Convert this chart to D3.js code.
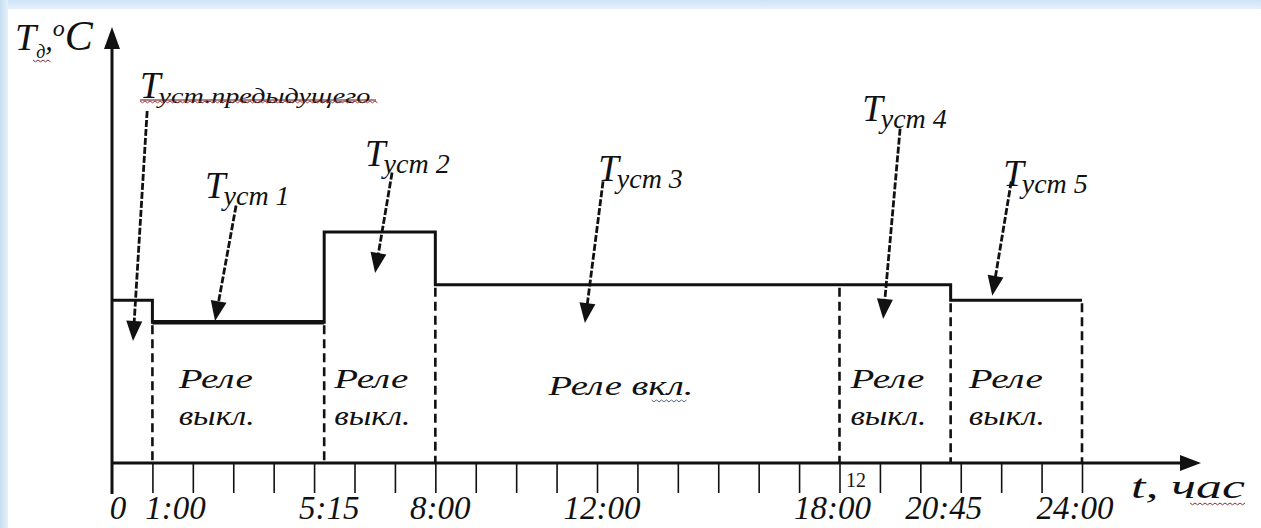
<!DOCTYPE html>
<html>
<head>
<meta charset="utf-8">
<script src="https://cdn.jsdelivr.net/npm/d3@7"></script>
<style>
  html, body { margin: 0; padding: 0; background: #fff; }
  svg { display: block; }
  text { font-family: "Liberation Serif", "DejaVu Serif", serif; font-style: italic; fill: #111; }
</style>
</head>
<body>
<svg id="chart" width="1261" height="528"></svg>
<script>
// Границы интервалов (часы) и уровень уставки на каждом интервале
const stepHours  = [0, 1, 5.25, 8, 20.75, 24];
const stepLevels = [7.4, 6.4, 10.5, 8.1, 7.4];

// Штриховые линии переключения реле
const relayHours = [1, 5.25, 8, 18, 20.75, 24];
const relayTop   = [6.4, 6.4, 8.1, 8.1, 7.4, 7.4];

// Подписи состояния реле: [час, строка 1, строка 2]
const relayText = [
  [1.65, 'Реле', 'выкл.'],
  [5.5, 'Реле', 'выкл.'],
  [10.8, 'Реле вкл.', ''],
  [18.27, 'Реле', 'выкл.'],
  [21.2, 'Реле', 'выкл.']
];

// Подписи оси времени
const tickHours  = [0, 1, 5.25, 8, 12, 18, 20.75, 24];
const tickLabels = ['0', '1:00', '5:15', '8:00', '12:00', '18:00', '20:45', '24:00'];

// Уставки: подпись, точка подписи, начало и конец стрелки (час, уровень)
const setNames  = ['уст.предыдущего', 'уст 1', 'уст 2', 'уст 3', 'уст 4', 'уст 5'];
const setLabel  = [[0.69, 16.6], [2.3, 12.05], [6.26, 13.5], [12.03, 12.8], [18.56, 15.55], [22.05, 12.6]];
const arrowFrom = [[0.87, 16.0], [3.07, 11.7], [6.93, 13.2], [12.15, 12.8], [19.5, 15.2], [22.25, 12.8]];
const arrowTo   = [[0.52, 5.55], [2.55, 6.45], [6.51, 8.64], [11.7, 6.36], [19.08, 6.55], [21.78, 7.6]];

const svg = d3.select('#chart');

// фон: голубая рамка сверху и слева
const defs = svg.append('defs');
const gTop = defs.append('linearGradient').attr('id', 'bandTop').attr('x1', 0).attr('y1', 0).attr('x2', 0).attr('y2', 1);
gTop.append('stop').attr('offset', '0%').attr('stop-color', '#cfe4f7');
gTop.append('stop').attr('offset', '100%').attr('stop-color', '#e4f0fb');
const gLeft = defs.append('linearGradient').attr('id', 'bandLeft').attr('x1', 0).attr('y1', 0).attr('x2', 1).attr('y2', 0);
gLeft.append('stop').attr('offset', '0%').attr('stop-color', '#c8def3');
gLeft.append('stop').attr('offset', '100%').attr('stop-color', '#e6f1fb');
svg.append('rect').attr('width', 1261).attr('height', 528).attr('fill', '#fff');
svg.append('rect').attr('width', 1261).attr('height', 9).attr('fill', 'url(#bandTop)');
svg.append('rect').attr('width', 8).attr('height', 528).attr('fill', 'url(#bandLeft)');

const x = d3.scaleLinear().domain([0, 24]).range([112, 1082]);
const y = d3.scaleLinear().domain([0, 20]).range([463, 23]);

const ink = '#111';

// --- оси ---
svg.append('line').attr('x1', x(0)).attr('x2', x(0)).attr('y1', y(0) + 31).attr('y2', 46)
  .attr('stroke', ink).attr('stroke-width', 3);
svg.append('path').attr('d', `M${x(0)},27 L${x(0) - 8},49 L${x(0) + 8},49 Z`).attr('fill', ink);

svg.append('line').attr('x1', x(0)).attr('x2', 1182).attr('y1', y(0)).attr('y2', y(0))
  .attr('stroke', ink).attr('stroke-width', 3);
svg.append('path').attr('d', `M1201,${y(0)} L1180,${y(0) - 8} L1180,${y(0) + 8} Z`).attr('fill', ink);

const axis = d3.axisBottom(x).tickValues(d3.range(1, 25)).tickSize(30).tickFormat('');
const axG = svg.append('g').attr('transform', `translate(0,${y(0)})`).call(axis);
axG.select('.domain').remove();
axG.selectAll('.tick line').attr('stroke', ink).attr('stroke-width', 1.6);

// подписи времени
svg.append('g').selectAll('text')
  .data(tickHours)
  .join('text')
  .attr('x', (d, i) => x(d) + (i === 1 ? 23 : i === 0 ? 6 : i >= 5 ? -7 : 5))
  .attr('y', 519)
  .attr('text-anchor', 'middle')
  .attr('font-size', 33)
  .text((d, i) => tickLabels[i]);

svg.append('text').attr('x', 846).attr('y', 487)
  .style('font-style', 'normal').attr('font-size', 20).attr('fill', '#333').text('12');

// t, час
svg.append('text').attr('x', 1131).attr('y', 498).attr('font-size', 34)
  .attr('textLength', 114).attr('lengthAdjust', 'spacingAndGlyphs').text('t, час');
wave(1190, 1245, 503, '#8a3030');

// --- ступенчатый график уставки ---
const stepPts = [];
stepLevels.forEach((v, i) => { stepPts.push([stepHours[i], v]); stepPts.push([stepHours[i + 1], v]); });
const line = d3.line().x(d => x(d[0])).y(d => y(d[1]));
svg.append('path').datum(stepPts).attr('d', line)
  .attr('fill', 'none').attr('stroke', ink).attr('stroke-width', 3).attr('stroke-linejoin', 'miter');
// более толстый участок 1:00–5:15
svg.append('path').datum([[stepHours[1], stepLevels[1]], [stepHours[2], stepLevels[1]]]).attr('d', line)
  .attr('stroke', ink).attr('stroke-width', 4.5);

// штриховые линии реле
svg.append('g').selectAll('line')
  .data(relayHours)
  .join('line')
  .attr('x1', d => x(d)).attr('x2', d => x(d))
  .attr('y1', (d, i) => y(relayTop[i]) + 3).attr('y2', y(0))
  .attr('stroke', ink).attr('stroke-width', 2.6).attr('stroke-dasharray', '9,5');

// подписи реле
const rl = svg.append('g').selectAll('g').data(relayText).join('g');
rl.append('text').attr('x', d => x(d[0])).attr('y', d => d[2] ? 388 : 395)
  .attr('font-size', 28).attr('textLength', d => d[2] ? 74 : 145).attr('lengthAdjust', 'spacingAndGlyphs')
  .text(d => d[1]);
rl.filter(d => d[2]).append('text').attr('x', d => x(d[0])).attr('y', 425)
  .attr('font-size', 28).attr('textLength', 76).attr('lengthAdjust', 'spacingAndGlyphs')
  .text(d => d[2]);

// волнистое подчёркивание (проверка орфографии)
function wave(x0, x1, yy, color) {
  let d = `M${x0},${yy}`;
  for (let xx = x0, k = 0; xx < x1; xx += 2.5, k++) d += ` L${xx + 2.5},${yy + (k % 2 ? 0 : 1.8)}`;
  svg.append('path').attr('d', d).attr('fill', 'none').attr('stroke', color).attr('stroke-width', 1);
}
wave(x(10.8) + 103, x(10.8) + 138, 400, '#5a6a8a');

// --- подпись оси температур ---
const yl = svg.append('text').attr('x', 15).attr('y', 50).attr('font-size', 38);
yl.append('tspan').text('T');
yl.append('tspan').attr('font-size', 18).attr('dy', 8).text('д');
yl.append('tspan').attr('font-size', 30).attr('dy', -8).text(',');
yl.append('tspan').attr('font-size', 24).attr('dy', -14).text('o');
yl.append('tspan').attr('font-size', 42).attr('dy', 14).text('C');
wave(33, 50, 60, '#8a3030');

// --- уставки со стрелками ---
const arrowHead = (x1, y1, x2, y2) => {
  const a = Math.atan2(y2 - y1, x2 - x1), L = 20, W = 8;
  const bx = x2 - L * Math.cos(a), by = y2 - L * Math.sin(a);
  const px = -Math.sin(a) * W, py = Math.cos(a) * W;
  return `M${x2},${y2} L${bx + px},${by + py} L${bx - px},${by - py} Z`;
};
setNames.forEach((name, i) => {
  const [fx, fy] = [x(arrowFrom[i][0]), y(arrowFrom[i][1])];
  const [tx, ty] = [x(arrowTo[i][0]), y(arrowTo[i][1])];
  const a = Math.atan2(ty - fy, tx - fx);
  svg.append('line').attr('x1', fx).attr('y1', fy)
    .attr('x2', tx - 16 * Math.cos(a)).attr('y2', ty - 16 * Math.sin(a))
    .attr('stroke', ink).attr('stroke-width', 2.8).attr('stroke-dasharray', '7,2');
  svg.append('path').attr('d', arrowHead(fx, fy, tx, ty)).attr('fill', ink);

  const t = svg.append('text').attr('x', x(setLabel[i][0])).attr('y', y(setLabel[i][1])).attr('font-size', 37);
  t.append('tspan').text('T');
  const sub = t.append('tspan').attr('font-size', i === 0 ? 22 : 28).attr('dy', i === 0 ? 5 : 7).attr('dx', -2).text(name);
  if (i === 0) {
    sub.attr('textLength', 212).attr('lengthAdjust', 'spacingAndGlyphs');
    svg.append('line').attr('x1', 140).attr('x2', 376).attr('y1', 100).attr('y2', 100)
      .attr('stroke', '#5a1010').attr('stroke-width', 1.2);
    wave(140, 376, 101, '#b03030');
  }
});
</script>
</body>
</html>
